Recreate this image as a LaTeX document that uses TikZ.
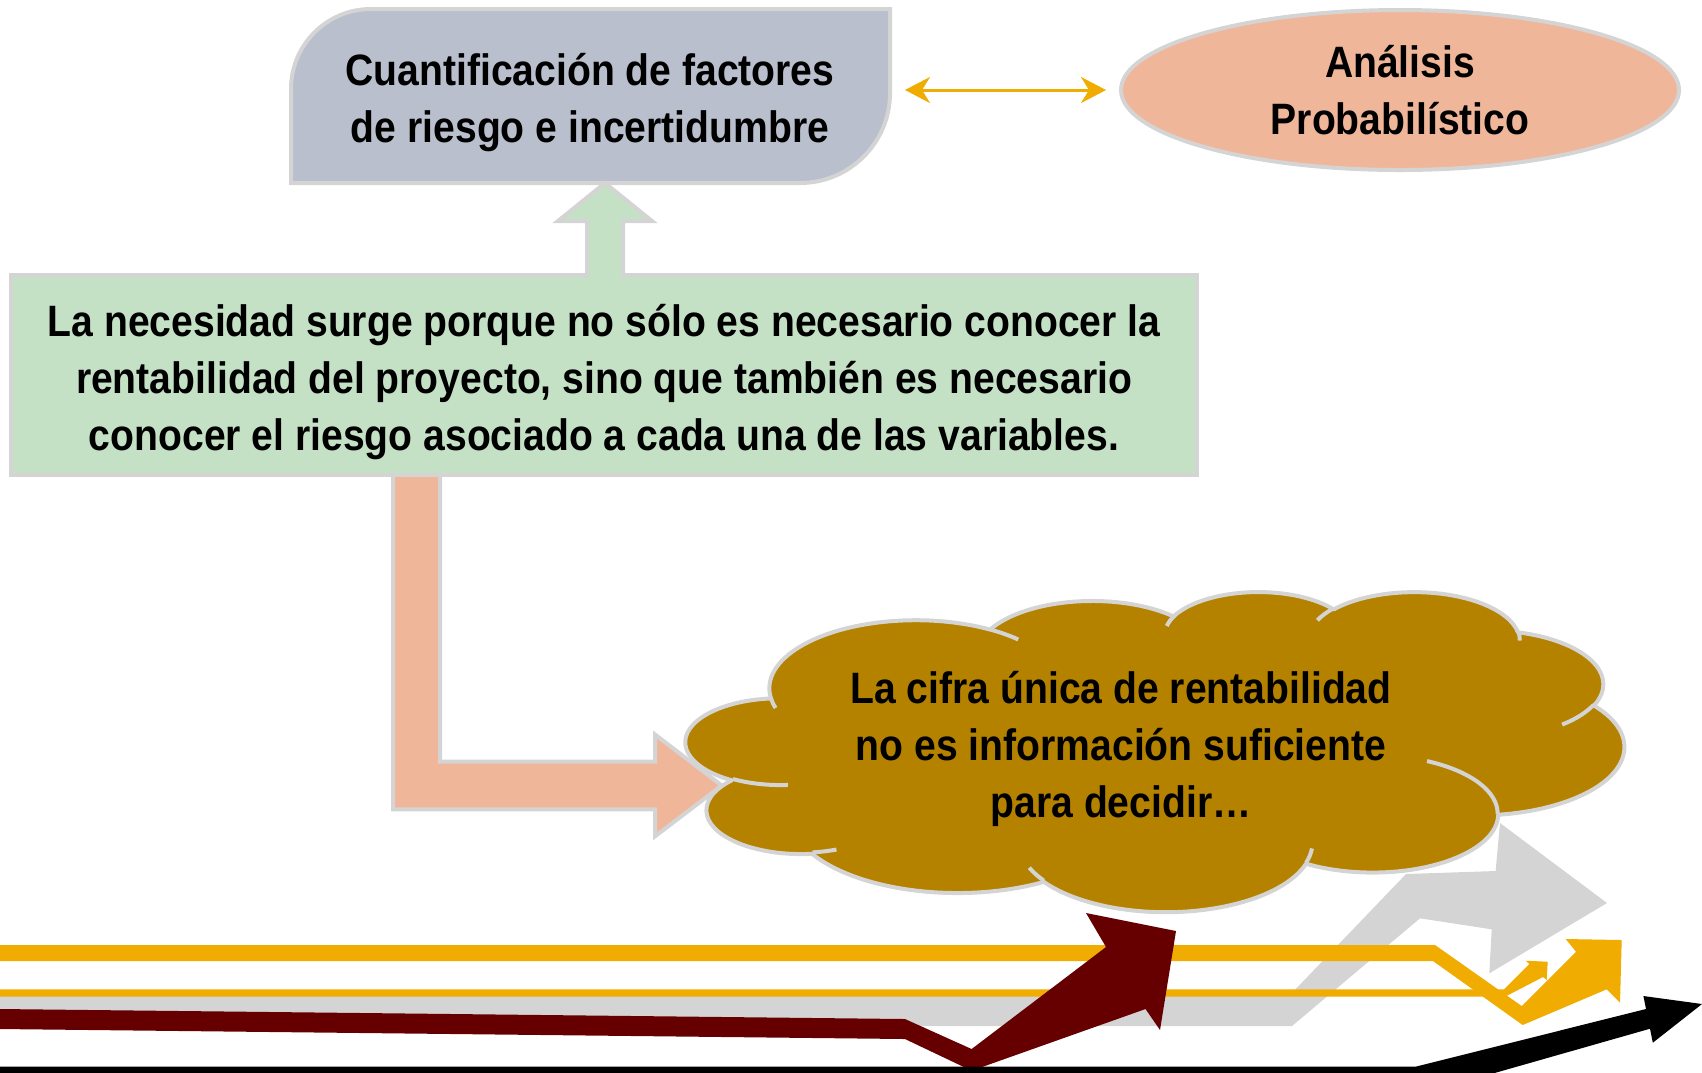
\documentclass[tikz,border=0pt]{standalone}
\usepackage{fontspec}
\setmainfont{Liberation Sans}[FakeStretch=0.89]
\usetikzlibrary{calc}
\usetikzlibrary{math}
\usetikzlibrary{shapes.geometric}
\usetikzlibrary{arrows.meta}
\definecolor{RimGray}{RGB}{212,212,212}
\definecolor{BandGray}{RGB}{212,212,212}
\definecolor{BoxBlue}{RGB}{185,191,204}
\definecolor{BoxGreen}{RGB}{196,225,198}
\definecolor{BoxSalmon}{RGB}{240,182,154}
\definecolor{CloudGold}{RGB}{181,130,0}
\definecolor{LineYellow}{RGB}{240,172,0}
\definecolor{DarkRed}{RGB}{102,0,0}
\pgfdeclarelayer{background}
\pgfsetlayers{background,main}
\tikzset{
  greyrim/.style={draw=RimGray, line width=0.4mm},
  boxtext/.style={font=\bfseries\fontsize{12.5}{16.2}\selectfont, align=center, inner sep=0pt},
  % one arc of the cloud outline: x radius, y radius, start angle, sweep
  puff/.style n args={4}{insert path={arc[start angle={atan2((#1)*sin(#3),(#2)*cos(#3))}, delta angle={mod(atan2((#1)*sin((#3)+(#4)),(#2)*cos((#3)+(#4)))-atan2((#1)*sin(#3),(#2)*cos(#3))+720,360)}, x radius=#1mm, y radius=#2mm]}},
}

\begin{document}
\begin{tikzpicture}[x=0.1mm, y=-0.1mm]
    \useasboundingbox (0,0) rectangle (1702,1072);

    \tikzmath {
        \upHead = 47;
        \upShaft = 18;
        \upLen = 38;
        \lHead = 51;
    }

    \coordinate (cuant_bl) at (291,183);
    \coordinate (cuant_tr) at (890,9);
    \coordinate (nec_bl) at (11,475);
    \coordinate (nec_tr) at (1197,275);

    % boxes
    \node[boxtext] (cuant) at (590,102.5)
        {Cuantificación de factores\\de riesgo e incertidumbre};
    \node[boxtext, greyrim, ellipse, fill=BoxSalmon, minimum width=55.8mm, minimum height=16mm] (analisis) at (1400,90)
        {Análisis\\Probabilístico};
    \node[boxtext] (necesidad) at (604,382)
        {La necesidad surge porque no sólo es necesario conocer la\\rentabilidad del proyecto, sino que también es necesario\\conocer el riesgo asociado a cada una de las variables.};

    \begin{pgfonlayer}{background}
        \draw[greyrim, fill=BoxBlue] (cuant_bl) -- ([yshift=-8mm]cuant_bl |- cuant_tr)
            arc[start angle=180, end angle=90, radius=8mm] -- (cuant_tr)
            -- ([yshift=9mm]cuant_tr |- cuant_bl) arc[start angle=0, end angle=-90, radius=9mm] -- cycle;
        \draw[greyrim, fill=BoxGreen] (nec_bl) rectangle (nec_tr);

        % trend arrows at the bottom
        \fill[BandGray] (0,996) -- (1289,996) -- (1406,874) -- (1495.6,871) -- (1500,823) -- (1607,903)
            -- (1489.3,973.3) -- (1491.7,929.3) -- (1420,918.3) -- (1292,1026) -- (0,1026) -- cycle;
        \fill[LineYellow] (0,945) -- (1435,945) -- (1521.7,1006) -- (1576,951.7) -- (1565.7,939) -- (1621.7,940)
            -- (1620,1002.7) -- (1606.7,989.3) -- (1522.7,1025) -- (1433,961) -- (0,961) -- cycle;
        \fill[LineYellow] (0,989.3) -- (1504,989.3) -- (1529.3,964) -- (1525.7,960.7) -- (1547.7,961.7)
            -- (1546.7,980) -- (1543,977) -- (1505,996.7) -- (0,996.7) -- cycle;
        \fill[DarkRed] (0,1009) -- (905,1019) -- (971.6,1049) -- (1106,947) -- (1086,913) -- (1176,931)
            -- (1160,1030) -- (1145.5,1009) -- (971.6,1070.7) -- (905,1039) -- (0,1029) -- cycle;
        \fill[black] (0,1066.7) -- (1415.5,1066.7) -- (1646,1009) -- (1643.4,996) -- (1702,1004)
            -- (1652.8,1042.7) -- (1650,1028.7) -- (1470,1080) -- (0,1080) -- cycle;
    \end{pgfonlayer}

    % bent arrow from the green box to the cloud
    \coordinate (l_tl) at ($(nec_bl)+(382,0)$);
    \coordinate (l_tr) at ($(l_tl)+(47,0)$);
    \coordinate (l_tip) at (721.7,785.5);
    \draw[greyrim, fill=BoxSalmon] (l_tl) -- (l_tl |- 0,809.3) -- (655,809.3) -- ++(0,\lHead-24)
        -- (l_tip) -- (655,785.5-\lHead) -- (655,761.7) -- (l_tr |- 0,761.7) -- (l_tr);
    \draw[greyrim] (nec_bl) -- (nec_bl -| nec_tr);

    % arrow up into the top box
    \coordinate (up_tip) at ($(cuant_bl -| cuant)+(15,0)$);
    \draw[greyrim, fill=BoxGreen] ($(up_tip |- nec_tr)+(-\upShaft,3)$) -- ($(up_tip)+(-\upShaft,\upLen)$)
        -- ++(\upShaft-\upHead,0) -- (up_tip) -- ($(up_tip)+(\upHead,\upLen)$) -- ++(\upShaft-\upHead,0)
        -- ($(up_tip |- nec_tr)+(\upShaft,3)$);

    \draw[LineYellow, line width=0.3mm, shorten <=1.5mm, shorten >=1.3mm,
        {Stealth[length=2.5mm, width=2.6mm, inset=0.8mm]}-{Stealth[length=2.5mm, width=2.6mm, inset=0.8mm]}]
        (cuant_tr |- analisis.west) -- (analisis.west);

    % cloud
    \begin{scope}[shift={(686,591)}]
    \begin{scope}[x=1mm, y=1mm, xscale=0.21713, yscale=-0.074074, line join=round]
        \draw[greyrim, fill=CloudGold] (39.00,143.70)
            [puff={67.53}{91.90}{-190.4875}{123.7805}]
            [puff={53.33}{72.67}{-144.1024}{89.9452}]
            [puff={43.65}{59.45}{-145.8079}{99.7230}]
            [puff={48.57}{65.95}{-130.9861}{117.2417}]
            [puff={53.33}{72.73}{-78.7089}{109.0269}]
            [puff={67.75}{92.20}{-46.2673}{130.2690}]
            [puff={57.85}{78.67}{0.6250}{114.0333}]
            [puff={67.52}{92.15}{22.4516}{115.1726}]
            [puff={77.20}{105.43}{66.2426}{75.7110}]
            [puff={43.60}{59.18}{-274.9421}{146.7356}]
            [puff={43.45}{59.45}{-246.8285}{152.5189}] -- cycle;
        \draw[greyrim]
            (46.93,261.77) [puff={43.45}{59.45}{86.7420}{26.4295}]
            (69.28,348.99) [puff={43.60}{59.18}{73.6105}{11.4475}]
            (164.78,390.90) [puff={67.52}{92.15}{137.6242}{14.0811}]
            (288.27,347.51) [puff={67.52}{92.15}{6.4533}{15.9984}]
            (341.29,229.54) [puff={57.85}{78.67}{-70.2924}{70.9174}]
            (417.98,153.54) [puff={53.33}{72.73}{30.3180}{27.7515}]
            (383.24,54.26) [puff={48.57}{65.95}{-13.7443}{14.8589}]
            (290.78,39.52) [puff={48.57}{65.95}{-149.1815}{18.1954}]
            (221.41,47.20) [puff={43.65}{59.45}{-163.4943}{17.6864}]
            (140.00,51.92) [puff={67.53}{91.90}{-66.7070}{12.3194}]
            (41.27,157.89) [puff={67.53}{91.90}{157.6544}{11.8582}];
    \end{scope}
    \end{scope}
    \node[boxtext] (cifra) at (1121,749.3)
        {La cifra única de rentabilidad\\no es información suficiente\\para decidir…};

\end{tikzpicture}
\end{document}
